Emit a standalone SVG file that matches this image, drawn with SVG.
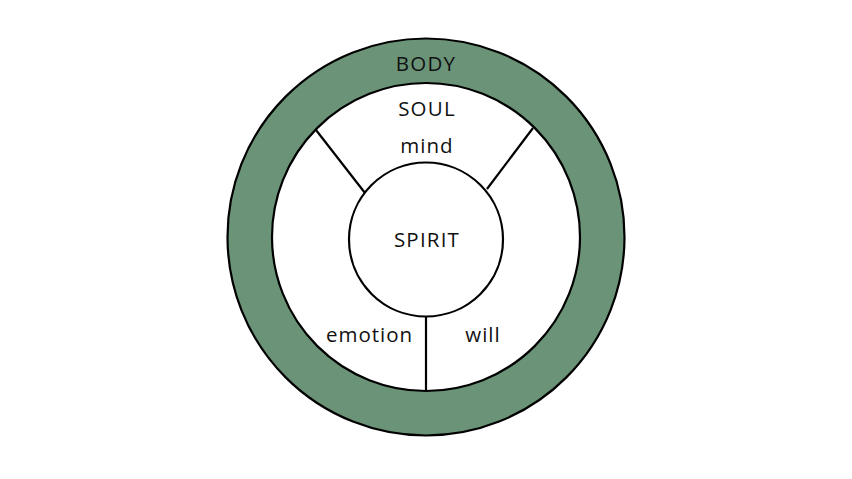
<svg xmlns="http://www.w3.org/2000/svg" width="852" height="479" viewBox="0 0 852 479">
<style>
.ln{stroke:#000;stroke-width:2.2;fill:none}
.t{font-family:"Open Sans","Noto Sans",sans-serif;font-size:20.5px;fill:#111;text-anchor:middle}
.c{letter-spacing:1.2px}
.l{letter-spacing:1px}
</style>
<rect width="852" height="479" fill="#fff"/>
<g id="body">
<circle cx="426" cy="237" r="198.5" fill="#6a9377" stroke="#000" stroke-width="2.2"/>
<text class="t c" x="426" y="71">BODY</text>
</g>
<g id="soul">
<circle cx="426" cy="237" r="154" fill="#fff" stroke="#000" stroke-width="2.2"/>
<text class="t c" x="427" y="116">SOUL</text>
</g>
<g id="connectors">
<line class="ln" x1="316" y1="130" x2="365" y2="193"/>
<line class="ln" x1="533" y1="128" x2="487" y2="189"/>
<line class="ln" x1="426" y1="316" x2="426" y2="391"/>
</g>
<g id="mind"><text class="t l" x="427" y="153">mind</text></g>
<g id="emotion"><text class="t l" x="369.5" y="342">emotion</text></g>
<g id="will"><text class="t l" x="483" y="342">will</text></g>
<g id="spirit">
<circle cx="426" cy="239.5" r="77" fill="#fff" stroke="#000" stroke-width="2.2"/>
<text class="t c" x="427" y="246.5">SPIRIT</text>
</g>
</svg>
